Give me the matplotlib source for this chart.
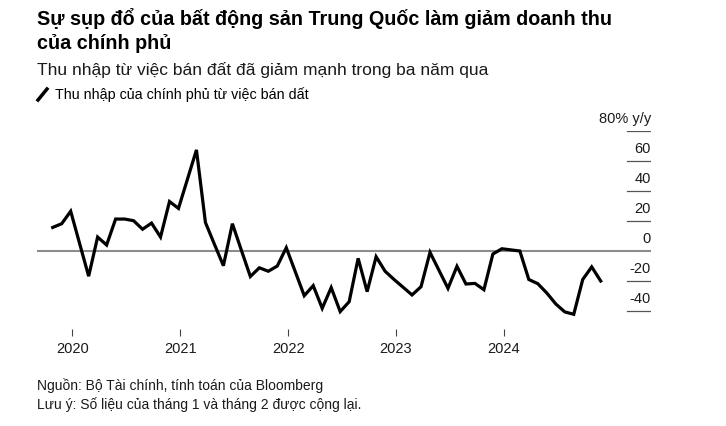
import matplotlib
matplotlib.use('Agg')
import matplotlib.pyplot as plt
from matplotlib.lines import Line2D

plt.rcParams['font.family'] = ['Liberation Sans', 'DejaVu Sans']

# Monthly land-sale revenue, y/y % (Jan and Feb combined, shown at Jan)
months = ['2019-11', '2019-12',
          '2020-01', '2020-03', '2020-04', '2020-05', '2020-06', '2020-07', '2020-08',
          '2020-09', '2020-10', '2020-11', '2020-12',
          '2021-01', '2021-03', '2021-04', '2021-05', '2021-06', '2021-07', '2021-08',
          '2021-09', '2021-10', '2021-11', '2021-12',
          '2022-01', '2022-03', '2022-04', '2022-05', '2022-06', '2022-07', '2022-08',
          '2022-09', '2022-10', '2022-11', '2022-12',
          '2023-01', '2023-03', '2023-04', '2023-05', '2023-06', '2023-07', '2023-08',
          '2023-09', '2023-10', '2023-11', '2023-12',
          '2024-01', '2024-03', '2024-04', '2024-05', '2024-06', '2024-07', '2024-08',
          '2024-09', '2024-10', '2024-11', '2024-12']
values = [15.7, 18.2,
          26.5, -16.8, 9.3, 4.0, 21.3, 21.3, 20.2, 14.5, 18.6, 9.3, 33.0,
          28.4, 67.4, 19.0, 4.5, -9.8, 18.2, 0.5, -17.0, -11.2, -13.5, -10.0,
          2.2, -29.8, -23.1, -38.2, -24.4, -40.4, -33.8, -4.9, -27.1, -3.8, -13.5,
          -19.0, -29.3, -23.8, -0.9, -12.9, -24.9, -10.2, -22.0, -21.6, -25.8, -2.0,
          1.5, 0.0, -19.0, -21.8, -28.0, -35.3, -40.6, -42.2, -19.0, -10.6, -20.0]

years = [2020, 2021, 2022, 2023, 2024]
yticks = [-40, -20, 0, 20, 40, 60, 80]

title = 'Sự sụp đổ của bất động sản Trung Quốc làm giảm doanh thu\ncủa chính phủ'
subtitle = 'Thu nhập từ việc bán đất đã giảm mạnh trong ba năm qua'
legend_label = 'Thu nhập của chính phủ từ việc bán dất'
source = 'Nguồn: Bộ Tài chính, tính toán của Bloomberg'
note = 'Lưu ý: Số liệu của tháng 1 và tháng 2 được cộng lại.'

# month index relative to Jan 2020
x = [(int(m[:4]) - 2020) * 12 + int(m[5:]) - 1 for m in months]

fig = plt.figure(figsize=(7.26, 4.27), dpi=100)
W, H = 726, 427
ax = fig.add_axes([37 / W, 1 - 330 / H, 614 / W, 198 / H])

ax.set_xlim(-3.75, 64.6)
ax.set_ylim(-52, 80)

# gridline stubs under the right-side labels
for v in yticks:
    if v == 0:
        ax.axhline(0, color='#8c8c8c', lw=1.5, zorder=1)
    else:
        ax.axhline(v, xmin=1 - 24 / 614, xmax=1, color='#555555', lw=0.9, zorder=1)
    lab = '80% y/y' if v == 80 else str(v)
    ax.text(1.0, v + 3.8, lab, transform=ax.get_yaxis_transform(),
            ha='right', va='bottom', fontsize=10.5, color='#1a1a1a')

ax.plot(x, values, color='black', lw=2.3, solid_joinstyle='miter', zorder=3)

ax.set_yticks([])
ax.set_xticks([(y - 2020) * 12 + 0.2 for y in years])
ax.set_xticklabels([str(y) for y in years], fontsize=10.5, color='#1a1a1a')
ax.tick_params(axis='x', direction='out', length=5, width=0.8, color='#444444', pad=4)
for s in ax.spines.values():
    s.set_visible(False)

fig.text(37 / W, 1 - 8 / H, title, ha='left', va='top', fontsize=14.2,
         fontweight='bold', color='black', linespacing=1.35)
fig.text(37 / W, 1 - 70 / H, subtitle, ha='left', va='center', fontsize=12.5, color='#1a1a1a')
fig.add_artist(Line2D([38 / W, 47 / W], [1 - 101 / H, 1 - 90 / H], color='black', lw=2.5))
fig.text(55 / W, 1 - 95 / H, legend_label, ha='left', va='center', fontsize=10.3, color='black')
fig.text(37 / W, 1 - 386 / H, source, ha='left', va='center', fontsize=10, color='#1a1a1a')
fig.text(37 / W, 1 - 405 / H, note, ha='left', va='center', fontsize=10, color='#1a1a1a')

fig.savefig('out.png', dpi=100, facecolor='white')
